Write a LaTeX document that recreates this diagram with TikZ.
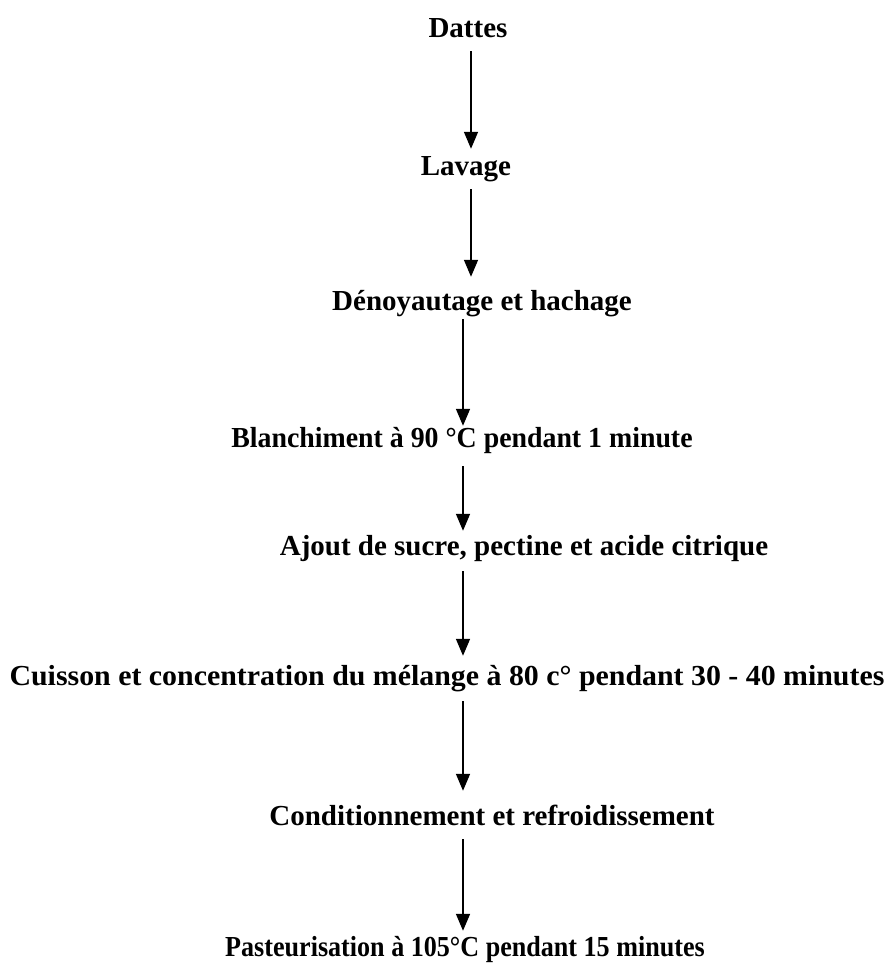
\documentclass[tikz,border=0pt]{standalone}
\usepackage{fontspec}
\usepackage{graphicx}
\setmainfont{Liberation Serif}
\usetikzlibrary{arrows.meta}
\tikzset{
  etape/.style={font=\bfseries\fontsize{29}{34}\selectfont, inner sep=0pt, text height=20pt, text depth=6pt},
  fleche/.style={-{Triangle[width=14pt,length=17pt]}, line width=1.6pt, shorten <=7pt, shorten >=7pt}
}

\begin{document}
\begin{tikzpicture}[x=1pt,y=1pt]
% Diagramme de fabrication de la confiture de dattes
\useasboundingbox (0,0) rectangle (888,968);
\coordinate (axe) at (463,0);
\coordinate (axeh) at (471,0);

\node[etape] (dattes) at (468,937) {Dattes};
\node[etape] (lavage) at (466,799) {Lavage};
\node[etape] (denoy) at (482,664) {Dénoyautage et hachage};
\node[etape] (blanch) at (462,527) {\scalebox{0.96}[1]{Blanchiment à 90 °C pendant 1 minute}};
\node[etape] (ajout) at (524,419) {Ajout de sucre, pectine et acide citrique};
\node[etape] (cuisson) at (447,289) {\scalebox{1.03}[1]{Cuisson et concentration du mélange à 80 c° pendant 30 - 40 minutes}};
\node[etape] (condit) at (492,149) {Conditionnement et refroidissement};
\node[etape] (pasteur) at (465,19) {\scalebox{0.9}[1]{Pasteurisation à 105°C pendant 15 minutes}};

\draw[fleche] (dattes.south -| axeh) -- (lavage.north -| axeh);
\draw[fleche, shorten >=14pt] (lavage.south -| axeh) -- (denoy.north -| axeh);
\draw[fleche, shorten <=2pt, shorten >=2pt] (denoy.south -| axe) -- (blanch.north -| axe);
\draw[fleche, shorten <=12pt, shorten >=5pt] (blanch.south -| axe) -- (ajout.north -| axe);
\draw[fleche, shorten <=9pt, shorten >=10pt] (ajout.south -| axe) -- (cuisson.north -| axe);
\draw[fleche, shorten <=9pt, shorten >=15pt] (cuisson.south -| axe) -- (condit.north -| axe);
\draw[fleche, shorten <=7pt, shorten >=5pt] (condit.south -| axe) -- (pasteur.north -| axe);
\end{tikzpicture}
\end{document}
